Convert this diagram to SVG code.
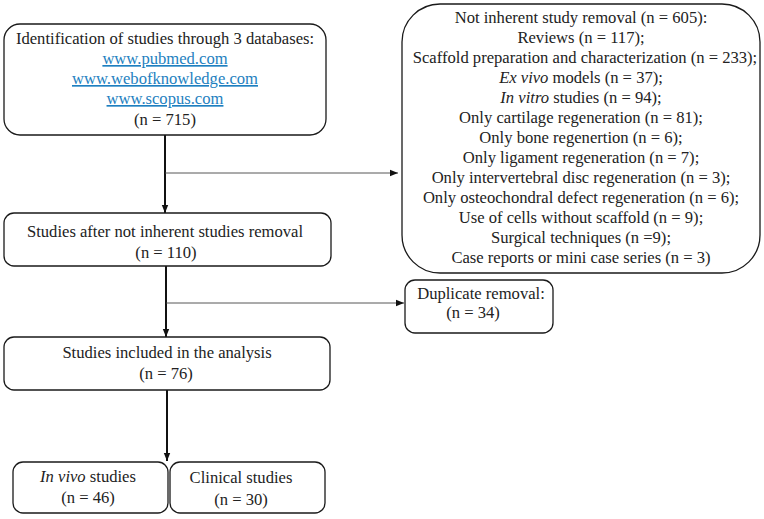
<svg xmlns="http://www.w3.org/2000/svg" width="764" height="519" viewBox="0 0 764 519">
<defs>
<style>
.box{fill:#fff;stroke:#1a1a1a;stroke-width:1.3}
text{font-family:"Liberation Serif","Times New Roman",serif;font-size:16.6px;fill:#222;text-anchor:middle}
.link{fill:#1e7fc0;text-decoration:underline}
.thick{stroke:#111;stroke-width:2;fill:none}
.thin{stroke:#444;stroke-width:0.9;fill:none}
</style>
<marker id="ah" viewBox="0 0 10 10" refX="10" refY="5" markerWidth="8" markerHeight="8" markerUnits="userSpaceOnUse" orient="auto">
<path d="M0,1 L10,5 L0,9 z" fill="#111"/>
</marker>
</defs>
<rect width="764" height="519" fill="#fff"/>
<g id="connectors">
<line class="thick" x1="165" y1="135" x2="165" y2="213" marker-end="url(#ah)"/>
<line class="thin" x1="165" y1="173" x2="398" y2="173" marker-end="url(#ah)"/>
<line class="thick" x1="166" y1="266" x2="166" y2="337" marker-end="url(#ah)"/>
<line class="thin" x1="166" y1="303" x2="404" y2="303" marker-end="url(#ah)"/>
<line class="thick" x1="167" y1="390" x2="167" y2="461" marker-end="url(#ah)"/>
</g>
<g id="identification">
<rect class="box" x="4" y="24" width="322" height="111" rx="16"/>
<text x="165" y="44">Identification of studies through 3 databases:</text>
<text class="link" x="165" y="64">www.pubmed.com</text>
<text class="link" x="165" y="84">www.webofknowledge.com</text>
<text class="link" x="165" y="104">www.scopus.com</text>
<text x="165" y="125">(n = 715)</text>
</g>
<g id="removal">
<rect class="box" x="402" y="4" width="358" height="269" rx="38"/>
<text x="581" y="23">Not inherent study removal (n = 605):</text>
<text x="581" y="43">Reviews (n = 117);</text>
<text x="585" y="63">Scaffold preparation and characterization (n = 233);</text>
<text x="581" y="83"><tspan font-style="italic">Ex vivo</tspan> models (n = 37);</text>
<text x="581" y="103"><tspan font-style="italic">In vitro</tspan> studies (n = 94);</text>
<text x="581" y="123">Only cartilage regeneration (n = 81);</text>
<text x="581" y="143">Only bone regenertion (n = 6);</text>
<text x="581" y="163">Only ligament regeneration (n = 7);</text>
<text x="581" y="183">Only intervertebral disc regeneration (n = 3);</text>
<text x="581" y="203">Only osteochondral defect regeneration (n = 6);</text>
<text x="581" y="223">Use of cells without scaffold (n = 9);</text>
<text x="581" y="243">Surgical techniques (n =9);</text>
<text x="581" y="263">Case reports or mini case series (n = 3)</text>
</g>
<g id="after-removal">
<rect class="box" x="4" y="213" width="327" height="53" rx="10"/>
<text x="165" y="237">Studies after not inherent studies removal</text>
<text x="166" y="258">(n = 110)</text>
</g>
<g id="duplicate">
<rect class="box" x="405" y="280" width="148" height="53" rx="10"/>
<text x="481" y="299">Duplicate removal:</text>
<text x="473" y="318">(n = 34)</text>
</g>
<g id="included">
<rect class="box" x="4" y="337" width="326" height="53" rx="10"/>
<text x="167" y="358">Studies included in the analysis</text>
<text x="166" y="379">(n = 76)</text>
</g>
<g id="invivo">
<rect class="box" x="13" y="462" width="155" height="51" rx="10"/>
<text x="88" y="482"><tspan font-style="italic">In vivo</tspan> studies</text>
<text x="88" y="503">(n = 46)</text>
</g>
<g id="clinical">
<rect class="box" x="170" y="462" width="155" height="51" rx="10"/>
<text x="241" y="483">Clinical studies</text>
<text x="241" y="505">(n = 30)</text>
</g>
</svg>
